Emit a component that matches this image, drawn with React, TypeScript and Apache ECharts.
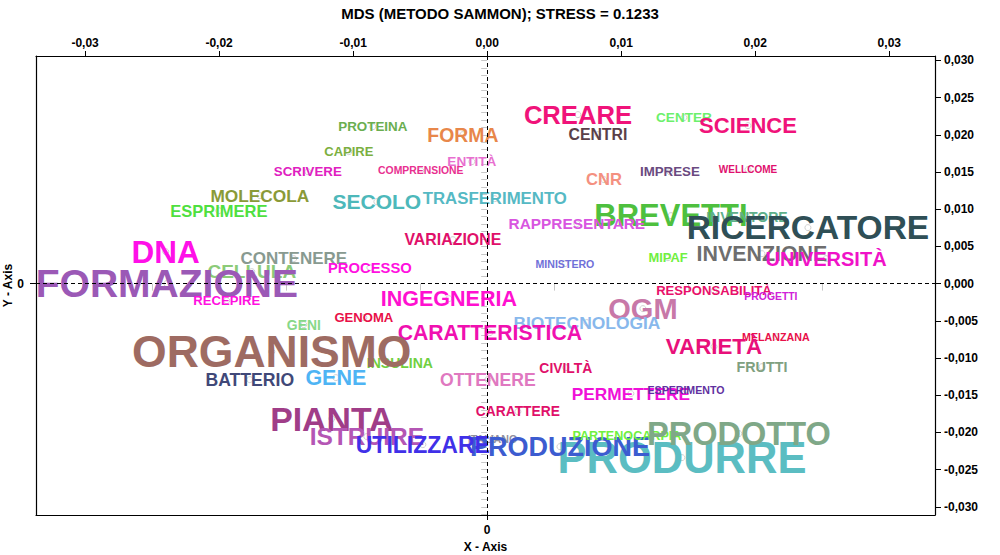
import React, { useEffect, useRef } from "react";
import * as echarts from "echarts";

const TITLE = "MDS (METODO SAMMON); STRESS = 0.1233";

const WORDS = [
  "PROTEINA", "FORMA", "CAPIRE", "ENTITÀ", "SCRIVERE", "COMPRENSIONE", "MOLECOLA", "ESPRIMERE",
  "SECOLO", "TRASFERIMENTO", "CREARE", "CENTRI", "CENTER", "SCIENCE", "CNR", "IMPRESE",
  "WELLCOME", "BREVETTI", "INVENTORE", "RICERCATORE", "RAPPRESENTARE", "VARIAZIONE", "DNA",
  "CONTENERE", "CELLULA", "PROCESSO", "INVENZIONE", "UNIVERSITÀ", "MIPAF", "MINISTERO",
  "FORMAZIONE", "RECEPIRE", "INGEGNERIA", "RESPONSABILITÀ", "PROGETTI", "OGM", "GENI", "GENOMA",
  "BIOTECNOLOGIA", "CARATTERISTICA", "INSULINA", "ORGANISMO", "MELANZANA", "VARIETÀ", "BATTERIO",
  "GENE", "OTTENERE", "CIVILTÀ", "FRUTTI", "PERMETTERE", "ESPERIMENTO", "CARATTERE", "PIANTA",
  "ISTRUIRE", "ITALIANO", "PRODURRE", "PRODUZIONE", "UTILIZZARE", "PARTENOCARPIA", "PRODOTTO",
];

const X_VALUES = [
  -0.00853, -0.00181, -0.01032, -0.00114, -0.01338, -0.00495, -0.01696, -0.02002,
  -0.00823, 0.00057, 0.00677, 0.00826, 0.01468, 0.01946, 0.00871, 0.01363,
  0.01946, 0.01371, 0.01938, 0.02393, 0.00669, -0.00256, -0.02398,
  -0.01443, -0.01756, -0.00875, 0.0205, 0.02528, 0.01349, 0.0058,
  -0.0239, -0.01943, -0.00286, 0.01692, 0.02117, 0.01162, -0.01368, -0.0092,
  0.00744, 0.0002, -0.00651, -0.01607, 0.02154, 0.01692, -0.01771,
  -0.01129, 0.00005, 0.00587, 0.0205, 0.01072, 0.01483, 0.00229, -0.01159,
  -0.00898, 0.0004, 0.01453, 0.00543, -0.0048, 0.01043, 0.01878,
];

const Y_VALUES = [
  0.0211, 0.02003, 0.01774, 0.0164, 0.01505, 0.01519, 0.01183, 0.00981,
  0.01102, 0.01142, 0.02272, 0.02003, 0.02231, 0.02124, 0.01398, 0.01505,
  0.01532, 0.00914, 0.00901, 0.00753, 0.00806, 0.00591, 0.0043,
  0.00336, 0.00161, 0.00215, 0.00403, 0.00336, 0.00349, 0.00269,
  0.0, -0.00228, -0.00202, -0.00094, -0.00175, -0.00336, -0.00551, -0.00457,
  -0.00524, -0.00659, -0.01062, -0.00914, -0.00712, -0.00847, -0.0129,
  -0.01263, -0.0129, -0.01129, -0.01116, -0.01478, -0.01425, -0.0172, -0.01815,
  -0.02056, -0.02083, -0.02339, -0.02191, -0.02164, -0.02043, -0.02016,
];

// word weight (font size)
const WEIGHTS = [
  13.4, 19.4, 13, 13.6, 13.3, 10.4, 17.3, 16.5,
  21, 16.8, 25.6, 15.8, 13.6, 22, 16.6, 13.3,
  10, 31, 14, 33.5, 15.4, 15.9, 31.5,
  17, 19, 14.8, 21.4, 20, 12.9, 10.6,
  39, 13.1, 21.5, 13.1, 10.4, 29, 13.9, 13.1,
  17.4, 21.2, 14, 44.5, 10.7, 22.3, 17.6,
  21.5, 17.6, 13.9, 14.3, 17.3, 10.6, 13.8, 33.8,
  24.5, 10.6, 43.5, 27, 23, 12.6, 32.5,
];

const COLORS = [
  "#6AAE50", "#E8874A", "#7BAF40", "#E86FD0", "#E020C0", "#E83090", "#8A9A38", "#4FE040",
  "#4DB8BA", "#55B9C4", "#F0137A", "#5A4048", "#6CF06C", "#F0137A", "#F49080", "#6A4A80",
  "#E0106E", "#4EC03E", "#5EB08A", "#2F4F56", "#D855E0", "#E0106A", "#FF10E8",
  "#889A90", "#8CCB78", "#FF10E0", "#6E6E6E", "#F012C8", "#70F040", "#7070D8",
  "#9B59B6", "#FF10E0", "#FF10D0", "#E8106A", "#D020D8", "#C878A8", "#88D888", "#E81048",
  "#88B8EC", "#F010B0", "#70D040", "#9E6B62", "#E8104A", "#E8107A", "#404878",
  "#4EB4F4", "#E078C0", "#E0106A", "#80A080", "#F010D8", "#6030A0", "#E0106A", "#A03D88",
  "#B456B4", "#9090A0", "#5BBDC2", "#3C5CD0", "#4030E8", "#70F040", "#7FA888",
];

const X_MIN = -0.03366;
const X_MAX = 0.03341;
const Y_MIN = -0.0311;
const Y_MAX = 0.0306;

const X_TICKS = [-0.03, -0.02, -0.01, 0, 0.01, 0.02, 0.03];
const X_MINOR_TICKS = [-0.025, -0.015, -0.005, 0.005, 0.015, 0.025];
const Y_TICKS = [-0.03, -0.025, -0.02, -0.015, -0.01, -0.005, 0, 0.005, 0.01, 0.015, 0.02, 0.025, 0.03];

const FONT = "'Liberation Sans', Arial, sans-serif";

export default function App() {
  const ref = useRef<HTMLDivElement>(null);

  useEffect(() => {
    if (!ref.current) return;
    const chart = echarts.init(ref.current, undefined, { renderer: "svg" });

    const yMinor: number[] = [];
    for (let k = -31; k <= 30; k++) yMinor.push(k / 1000);

    const data = WORDS.map((w, i) => ({
      name: w,
      value: [X_VALUES[i], Y_VALUES[i]],
      label: { fontSize: WEIGHTS[i], color: COLORS[i] },
    }));

    const axisText = { color: "#000", fontWeight: "bold" as const, fontSize: 12, fontFamily: FONT };

    chart.setOption({
      animation: false,
      backgroundColor: "#fff",
      textStyle: { fontFamily: FONT },
      title: {
        text: TITLE,
        left: "center",
        top: 1,
        textStyle: { fontSize: 15, fontWeight: "bold", color: "#000", fontFamily: FONT },
      },
      grid: { left: 36, right: 65, top: 56, bottom: 40, containLabel: false, outerBoundsMode: "none" },
      xAxis: [
        {
          type: "value",
          position: "bottom",
          min: X_MIN,
          max: X_MAX,
          splitLine: { show: false },
          axisLine: { show: true, onZero: false, lineStyle: { color: "#000", width: 1.2 } },
          axisTick: { show: true, customValues: [0], length: 5, lineStyle: { color: "#000" } },
          axisLabel: { customValues: [0], formatter: () => "0", margin: 9, ...axisText },
          name: "X - Axis",
          nameLocation: "middle",
          nameGap: 26,
          nameMoveOverlap: false,
          nameTextStyle: { ...axisText },
        },
        {
          type: "value",
          position: "top",
          min: X_MIN,
          max: X_MAX,
          splitLine: { show: false },
          axisLine: { show: true, onZero: false, lineStyle: { color: "#000", width: 1.2 } },
          axisTick: { show: true, customValues: X_TICKS, length: 5, lineStyle: { color: "#000" } },
          axisLabel: {
            customValues: X_TICKS,
            formatter: (v: number) => v.toFixed(2).replace(".", ","),
            margin: 7,
            ...axisText,
          },
        },
        {
          type: "value",
          position: "top",
          min: X_MIN,
          max: X_MAX,
          splitLine: { show: false },
          axisLine: { show: false },
          axisTick: { show: true, inside: true, customValues: X_MINOR_TICKS, length: 7, lineStyle: { color: "#c8c8c8" } },
          axisLabel: { show: false },
        },
      ],
      yAxis: [
        {
          type: "value",
          position: "right",
          min: Y_MIN,
          max: Y_MAX,
          splitLine: { show: false },
          axisLine: { show: true, onZero: false, lineStyle: { color: "#000", width: 1.2 } },
          axisTick: { show: true, customValues: Y_TICKS, length: 6, lineStyle: { color: "#000" } },
          axisLabel: {
            customValues: Y_TICKS,
            formatter: (v: number) => v.toFixed(3).replace(".", ","),
            margin: 9,
            ...axisText,
          },
        },
        {
          type: "value",
          position: "right",
          min: Y_MIN,
          max: Y_MAX,
          splitLine: { show: false },
          axisLine: { show: false },
          axisTick: { show: true, inside: true, customValues: yMinor, length: 6, lineStyle: { color: "#c8c8c8" } },
          axisLabel: { show: false },
        },
        {
          type: "value",
          position: "left",
          min: Y_MIN,
          max: Y_MAX,
          splitLine: { show: false },
          axisLine: { show: true, onZero: false, lineStyle: { color: "#000", width: 1.2 } },
          axisTick: { show: true, customValues: [0], length: 6, lineStyle: { color: "#000" } },
          axisLabel: { customValues: [0], formatter: () => "0", margin: 12, ...axisText },
          name: "Y - Axis",
          nameLocation: "middle",
          nameGap: 22,
          nameMoveOverlap: false,
          nameTextStyle: { ...axisText },
        },
      ],
      series: [
        {
          type: "scatter",
          xAxisIndex: 0,
          yAxisIndex: 0,
          symbol: "circle",
          symbolSize: 6,
          itemStyle: { color: "rgba(0,0,0,0)", borderColor: "#d0d0d0", borderWidth: 1, opacity: 1 },
          label: {
            show: true,
            position: "inside",
            formatter: "{b}",
            fontWeight: "bold",
            fontFamily: FONT,
            opacity: 1,
          },
          emphasis: { disabled: true },
          data,
          markLine: {
            silent: true,
            symbol: ["none", "none"],
            label: { show: false },
            lineStyle: { color: "#000", type: [4, 3], width: 1, opacity: 1 },
            data: [{ xAxis: 0 }, { yAxis: 0 }],
          },
        },
      ],
    });

    return () => chart.dispose();
  }, []);

  return (
    <div
      ref={ref}
      style={{ position: "fixed", left: 0, top: 0, width: 1000, height: 555, background: "#fff" }}
    />
  );
}
